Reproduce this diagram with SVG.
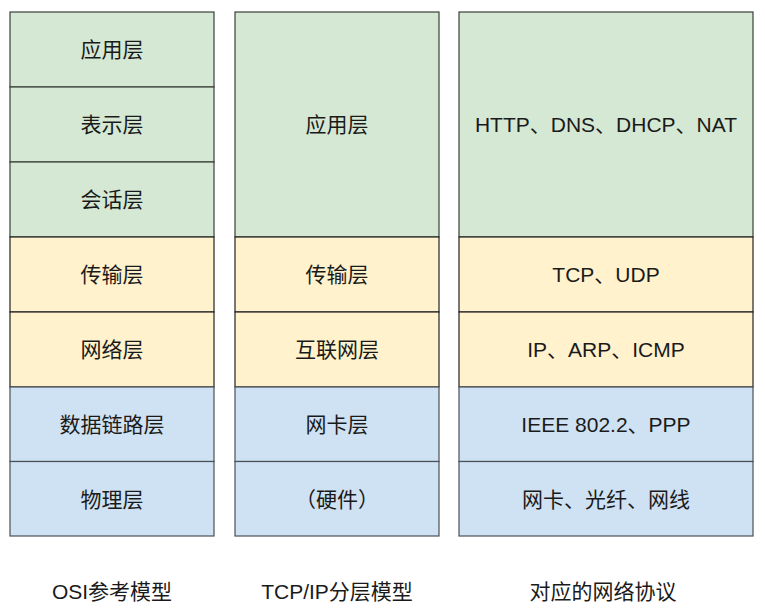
<svg xmlns="http://www.w3.org/2000/svg" width="765" height="616" viewBox="0 0 765 616">
<style>
text{font-family:"Liberation Sans","Noto Sans CJK SC",sans-serif;font-size:21px;fill:#1a1a1a;text-anchor:middle;dominant-baseline:central}
.g{fill:#d5e8d4;stroke:#3a403a;stroke-width:1.2}
.y{fill:#fff2cc;stroke:#222;stroke-width:1.2}
.b{fill:#cfe2f3;stroke:#4a5058;stroke-width:1.2}
</style>
<rect width="765" height="616" fill="#fff"/>
<g id="osi">
<g id="osi-app"><rect class="g" x="10" y="12" width="204" height="75"/><text x="112" y="49.5">应用层</text></g>
<g id="osi-pres"><rect class="g" x="10" y="87" width="204" height="75"/><text x="112" y="124.5">表示层</text></g>
<g id="osi-sess"><rect class="g" x="10" y="162" width="204" height="75"/><text x="112" y="199.5">会话层</text></g>
<g id="osi-trans"><rect class="y" x="10" y="237" width="204" height="75"/><text x="112" y="274.5">传输层</text></g>
<g id="osi-net"><rect class="y" x="10" y="312" width="204" height="75"/><text x="112" y="349.5">网络层</text></g>
<g id="osi-link"><rect class="b" x="10" y="387" width="204" height="74.5"/><text x="112" y="424.5">数据链路层</text></g>
<g id="osi-phys"><rect class="b" x="10" y="461.5" width="204" height="74.5"/><text x="112" y="499">物理层</text></g>
<g id="osi-label"><text x="112" y="591">OSI参考模型</text></g>
</g>
<g id="tcpip">
<g id="tcp-app"><rect class="g" x="235" y="12" width="204" height="225"/><text x="337" y="124.5">应用层</text></g>
<g id="tcp-trans"><rect class="y" x="235" y="237" width="204" height="75"/><text x="337" y="274.5">传输层</text></g>
<g id="tcp-inet"><rect class="y" x="235" y="312" width="204" height="75"/><text x="337" y="349.5">互联网层</text></g>
<g id="tcp-nic"><rect class="b" x="235" y="387" width="204" height="74.5"/><text x="337" y="424.5">网卡层</text></g>
<g id="tcp-hw"><rect class="b" x="235" y="461.5" width="204" height="74.5"/><text x="337" y="499">（硬件）</text></g>
<g id="tcp-label"><text x="337" y="591">TCP/IP分层模型</text></g>
</g>
<g id="proto">
<g id="p-app"><rect class="g" x="459" y="12" width="294" height="225"/><text x="606" y="124.5">HTTP、DNS、DHCP、NAT</text></g>
<g id="p-trans"><rect class="y" x="459" y="237" width="294" height="75"/><text x="606" y="274.5">TCP、UDP</text></g>
<g id="p-net"><rect class="y" x="459" y="312" width="294" height="75"/><text x="606" y="349.5">IP、ARP、ICMP</text></g>
<g id="p-link"><rect class="b" x="459" y="387" width="294" height="74.5"/><text x="606" y="424.5">IEEE 802.2、PPP</text></g>
<g id="p-phys"><rect class="b" x="459" y="461.5" width="294" height="74.5"/><text x="606" y="499">网卡、光纤、网线</text></g>
<g id="p-label"><text x="603" y="591">对应的网络协议</text></g>
</g>
<g id="connectors"></g>
</svg>
